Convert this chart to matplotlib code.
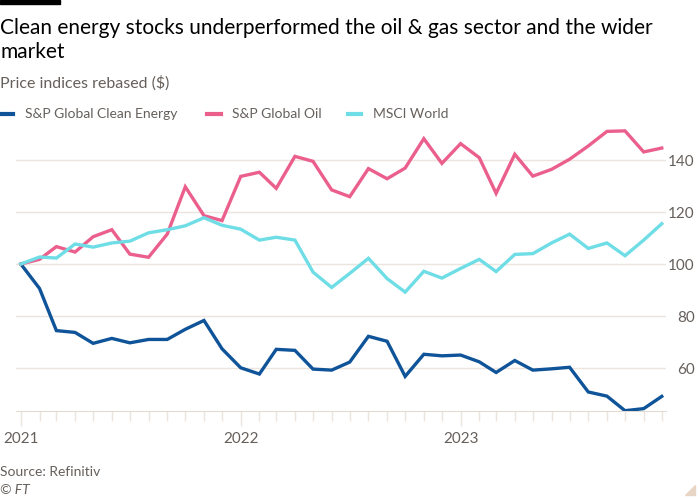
import matplotlib
matplotlib.use("Agg")
import matplotlib.pyplot as plt
import matplotlib.dates as mdates
from matplotlib.patches import Rectangle, Polygon
import pandas as pd

# Monthly price indices, rebased to 100 at Jan 2021
months = pd.date_range("2021-01-01", periods=36, freq="MS")

clean_energy = [100, 90.6, 74.4, 73.7, 69.5, 71.4, 69.7, 71.0, 71.0, 74.9, 78.3, 67.4,
                60.1, 57.7, 67.2, 66.8, 59.6, 59.2, 62.3, 72.2, 70.3, 56.8, 65.3, 64.7,
                65.0, 62.4, 58.3, 62.9, 59.2, 59.7, 60.3, 50.8, 49.2, 43.6, 44.4, 49.1]
global_oil = [100, 101.8, 106.7, 104.6, 110.5, 113.2, 103.8, 102.6, 111.5, 129.7, 118.6, 116.7,
              133.7, 135.3, 129.1, 141.4, 139.5, 128.5, 125.9, 136.7, 132.8, 136.9, 148.2, 138.7,
              146.3, 140.9, 127.2, 142.2, 133.8, 136.4, 140.3, 145.4, 151.0, 151.2, 143.1, 144.6]
msci_world = [100, 102.7, 102.3, 107.7, 106.5, 108.1, 108.8, 112.0, 113.2, 114.7, 117.8, 114.9,
              113.4, 109.2, 110.3, 109.2, 96.9, 91.0, 96.4, 102.2, 94.4, 89.2, 97.2, 94.6,
              98.3, 101.8, 97.1, 103.7, 104.0, 108.1, 111.5, 106.0, 108.1, 103.2, 109.2, 115.5]

series_names = ["S&P Global Clean Energy", "S&P Global Oil", "MSCI World"]
colors = ["#0f5499", "#eb5f8d", "#6fdde5"]
y_ticks = [60, 80, 100, 120, 140]

plt.rcParams["font.family"] = ["Lato", "DejaVu Sans"]
text_grey = "#66605c"
grid_col = "#ece5de"

fig = plt.figure(figsize=(7, 5), dpi=100)
ax = fig.add_axes([0.0229, 0.1786, 0.9285, 0.5794])

for vals, col, name in zip([clean_energy, global_oil, msci_world], colors, series_names):
    ax.plot(months, vals, color=col, lw=2.4, label=name, solid_joinstyle="miter", zorder=3)

ax.set_ylim(43.6, 155)
ax.set_xlim(months[0] - pd.Timedelta(days=8), months[-1] + pd.Timedelta(days=7))

ax.yaxis.tick_right()
ax.set_yticks(y_ticks)
ax.set_yticklabels([str(v) for v in y_ticks])
ax.tick_params(axis="y", length=0, pad=0, labelsize=11, labelcolor=text_grey)
for lab in ax.get_yticklabels():
    lab.set_horizontalalignment("right")
    lab.set_x(1.044)
ax.grid(axis="y", color=grid_col, lw=1)

ax.xaxis.set_major_locator(mdates.YearLocator())
ax.xaxis.set_major_formatter(mdates.DateFormatter("%Y"))
ax.xaxis.set_minor_locator(mdates.MonthLocator())
ax.tick_params(axis="x", which="major", length=11, width=1, color=grid_col,
               labelsize=11, labelcolor=text_grey, pad=4)
ax.tick_params(axis="x", which="minor", length=7, width=1, color=grid_col)

for s in ["top", "left", "right"]:
    ax.spines[s].set_visible(False)
ax.spines["bottom"].set_color("#e3dbd3")
ax.set_axisbelow(True)

# headline texts
fig.text(0.0, 0.9205, "Clean energy stocks underperformed the oil & gas sector and the wider\nmarket",
         fontsize=15, color="#000000", va="center", ha="left", linespacing=1.27)
fig.text(0.0, 0.834, "Price indices rebased ($)", fontsize=11.5, color=text_grey, va="center")

# legend row
leg_x = [0.0, 0.296, 0.497]
for x0, col, name in zip(leg_x, colors, series_names):
    fig.add_artist(plt.Line2D([x0, x0 + 0.019], [0.772, 0.772], color=col, lw=3,
                              transform=fig.transFigure))
    fig.text(x0 + 0.036, 0.772, name, fontsize=10, color=text_grey, va="center")

fig.text(0.0, 0.056, "Source: Refinitiv", fontsize=10, color=text_grey, va="center")
fig.text(0.0, 0.02, "© FT", fontsize=10, color=text_grey, va="center", style="italic")

# FT decorations
fig.add_artist(Rectangle((0, 0.992), 0.086, 0.008, color="black", transform=fig.transFigure))
fig.add_artist(Polygon([(0.979, 0.01), (0.993, 0.01), (0.993, 0.03)], closed=True,
                       color="#e7d6c5", transform=fig.transFigure))

fig.savefig("out.png", dpi=100, facecolor="white")
